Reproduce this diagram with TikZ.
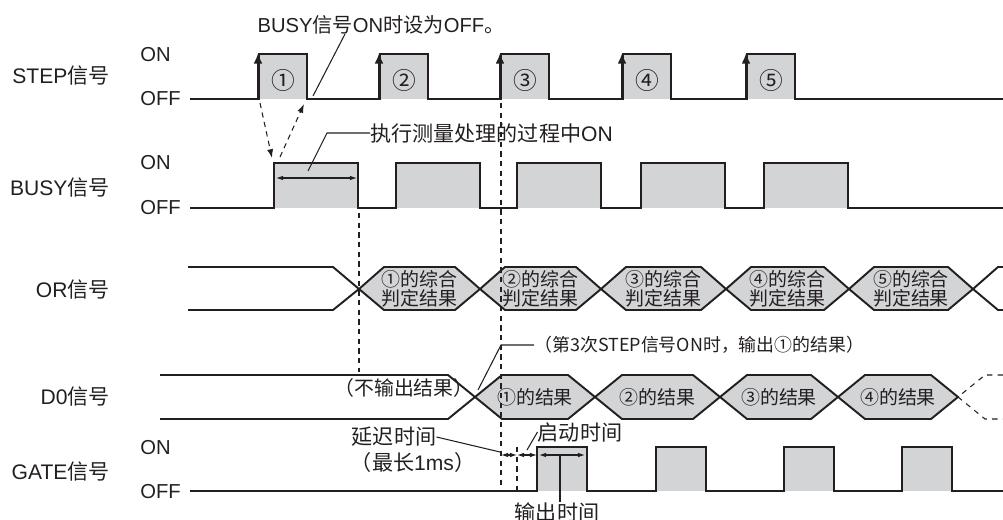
\documentclass[tikz,border=0pt]{standalone}
\usepackage{fontspec}
\setmainfont{Liberation Sans}
\newfontfamily\cjk{Noto Sans CJK SC}
\newcommand{\zh}[1]{{\cjk #1}}
\usetikzlibrary{arrows.meta, calc}
\definecolor{pulsegray}{RGB}{211,212,214}
\definecolor{inkgray}{RGB}{35,31,32}

\begin{document}
\begin{tikzpicture}[x=0.02cm, y=-0.02cm, color=inkgray,
        sig/.style={line width=1.1pt, draw=inkgray},
        lead/.style={line width=0.6pt, draw=inkgray},
        guide/.style={line width=0.6pt, draw=inkgray, dash pattern=on 3pt off 2.5pt},
        rowname/.style={anchor=east, inner sep=0, font=\fontsize{12}{14}\selectfont},
        level/.style={anchor=west, inner sep=0, font=\fontsize{11.5}{13}\selectfont},
        note/.style={inner sep=0, font=\fontsize{11.5}{13}\selectfont},
        hexnote/.style={inner sep=0, align=center, font=\cjk\fontsize{10.8}{11}\selectfont},
        span/.style={lead, {Latex[length=4pt,width=2.6pt]}-{Latex[length=4pt,width=2.6pt]}}
    ]
    \useasboundingbox (0,0) rectangle (1003,520);

    % row names and levels
    \node[rowname] (stepname) at (110,76) {STEP\zh{信号}};
    \node[rowname] (busyname) at (110,188) {BUSY\zh{信号}};
    \node[rowname] (orname) at (110,290) {OR\zh{信号}};
    \node[rowname] (doname) at (110,397) {D0\zh{信号}};
    \node[rowname] (gatename) at (110,472) {GATE\zh{信号}};
    \node[level] (stepon) at (140,55) {ON};
    \node[level] (stepoff) at (140,99) {OFF};
    \node[level] (busyon) at (140,163) {ON};
    \node[level] (busyoff) at (140,208) {OFF};
    \node[level] (gateon) at (140,448) {ON};
    \node[level] (gateoff) at (140,492) {OFF};

    % STEP signal
    \foreach \x in {259,380,501,623,747}
        \fill[pulsegray] (\x,99) rectangle (\x+48,54);
    \draw[sig] (190,99) \foreach \x in {259,380,501,623,747} {
        -- (\x,99) -- (\x,54) -- (\x+48,54) -- (\x+48,99) } -- (1003,99);
    \foreach \x [count=\i] in {259,380,501,623,747} {
        \draw[line width=1.6pt, -{Latex[length=6pt,width=5pt]}] (\x-1,99) -- (\x-1,53);
        \node[note, font=\cjk\fontsize{13.5}{15}\selectfont] (stepno\i) at (\x+24,80)
            {\ifcase\i\or ①\or ②\or ③\or ④\or ⑤\fi};
    }

    % BUSY signal
    \foreach \x in {274,396,517,641,764}
        \fill[pulsegray] (\x,208) rectangle (\x+84,163);
    \draw[sig] (190,208) \foreach \x in {274,396,517,641,764} {
        -- (\x,208) -- (\x,163) -- (\x+84,163) -- (\x+84,208) } -- (1003,208);

    % OR signal
    \draw[sig] (188,267) -- (333,267) -- (359,289) -- (333,310) -- (188,310);
    \foreach \a/\b [count=\i] in {359/480,480/601,601/726,726/849,849/973} {
        \filldraw[sig, fill=pulsegray] (\a,289) -- (\a+25,267) -- (\b-25,267)
            -- (\b,289) -- (\b-25,310) -- (\a+25,310) -- cycle;
        \node[hexnote] (orres\i) at ({(\a+\b)/2},289)
            {\ifcase\i\or ①\or ②\or ③\or ④\or ⑤\fi 的综合\\判定结果};
    }
    \draw[sig] (1003,267) -- (998,267) -- (973,289) -- (998,310) -- (1003,310);

    % D0 signal
    \draw[sig] (160,375) -- (448,375) -- (475,397) -- (448,419) -- (160,419);
    \foreach \a/\b [count=\i] in {475/595,595/720,720/838,838/958} {
        \filldraw[sig, fill=pulsegray] (\a,397) -- (\a+27,375) -- (\b-27,375)
            -- (\b,397) -- (\b-27,419) -- (\a+27,419) -- cycle;
        \node[hexnote] (dores\i) at ({(\a+\b)/2},397)
            {\ifcase\i\or ①\or ②\or ③\or ④\fi 的结果};
    }
    \draw[lead, dashed] (1003,375) -- (985,375) -- (958,397) -- (985,419) -- (1003,419);
    \node[note, font=\cjk\fontsize{11.3}{13}\selectfont] (nooutput) at (404,388) {（不输出结果）};

    % GATE signal
    \foreach \x in {537,656,784,902}
        \fill[pulsegray] (\x,491) rectangle (\x+50,447);
    \draw[sig] (190,491) \foreach \x in {537,656,784,902} {
        -- (\x,491) -- (\x,447) -- (\x+50,447) -- (\x+50,491) } -- (1003,491);

    % guide lines
    \draw[guide] (359,213) -- (359,372);
    \draw[guide] (501,103) -- (501,491);
    \draw[guide] (517,447) -- (517,491);
    \draw[guide, -{Latex[length=5pt,width=3.5pt]}] (260,103) -- (272,158);
    \draw[guide, -{Latex[length=5pt,width=3.5pt]}] (280,157) -- (304,104);

    % notes and leaders
    \node[note] (busynote) at (381,25) {BUSY\zh{信号}ON\zh{时设为}OFF\zh{。}};
    \coordinate (stepfall) at (313,96);
    \draw[lead] (345,34) -- (stepfall);

    \draw[span] (276,178) -- (357,178);
    \node[note, anchor=west, font=\fontsize{12}{14}\selectfont] (measnote) at (370,133)
        {\zh{执行测量处理的过程中}ON};
    \coordinate (measpt) at (308,171);
    \draw[lead] (measnote.west) -- (327,133) -- (measpt);

    \node[note, anchor=west, font=\cjk\fontsize{10.2}{12}\selectfont] (thirdnote) at (534,345)
        {（第3次STEP信号ON时，输出①的结果）};
    \coordinate (dopt) at (478,390);
    \draw[lead] (thirdnote.west) -- (501,345) -- (dopt);

    \node[note, font=\fontsize{12}{14}\selectfont] (delaynote) at (394,437) {\zh{延迟时间}};
    \node[note, font=\fontsize{12}{14}\selectfont] (maxnote) at (413,462) {\zh{（最长}1ms\zh{）}};
    \coordinate (delaypt) at (500,452);
    \draw[lead] (delaynote.east) -- (delaypt);

    \node[note, font=\fontsize{12}{14}\selectfont] (startnote) at (580,432) {\zh{启动时间}};
    \coordinate (startpt) at (527,450);
    \draw[lead] (startnote.west) -- (startpt);

    \draw[span] (501,455) -- (517,455);
    \draw[span] (517,455) -- (537,455);
    \draw[span] (539,455) -- (585,455);
    \node[note, font=\fontsize{12}{14}\selectfont] (outnote) at (557,512) {\zh{输出时间}};
    \draw[lead] (560,455) -- (outnote.north -| 560,0);
\end{tikzpicture}
\end{document}
